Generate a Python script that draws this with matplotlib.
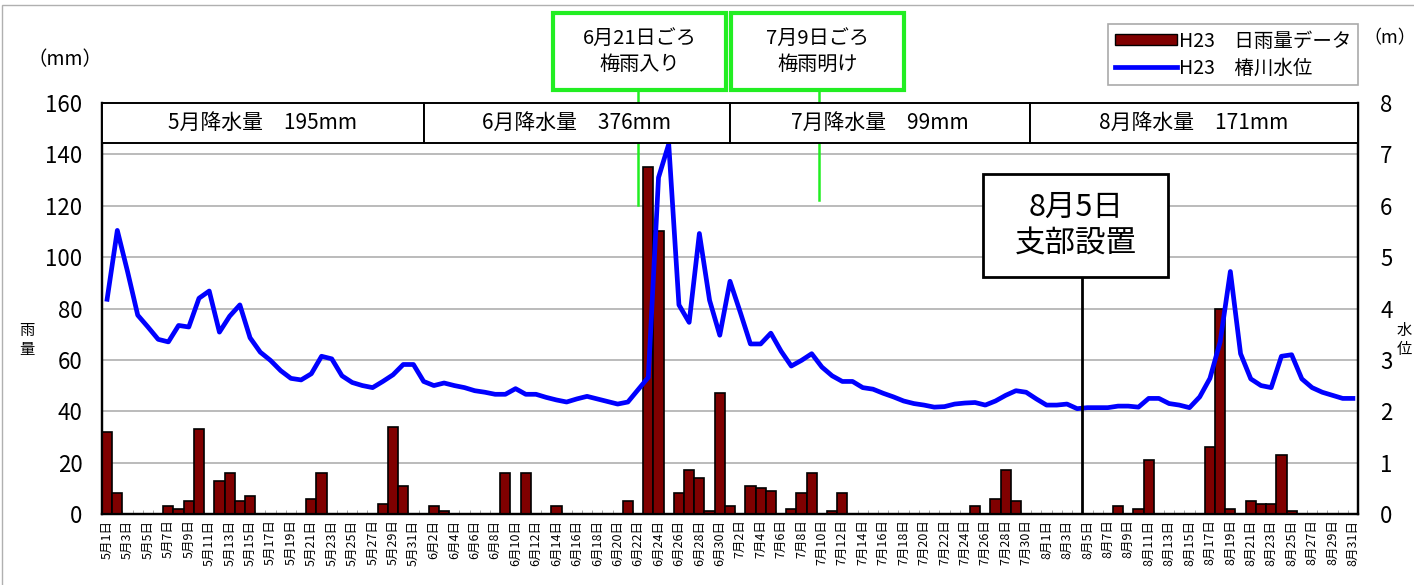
import matplotlib
matplotlib.use('Agg')
import matplotlib.pyplot as plt
from matplotlib.patches import Rectangle
from matplotlib.lines import Line2D

plt.rcParams['font.family'] = ['Noto Sans CJK JP', 'DejaVu Sans']

# data: H23 (2011) May-Aug daily rainfall (mm) and Tsubaki river level (m)
months = [5, 6, 7, 8]
month_days = [31, 30, 31, 31]

rain_may = [32, 8, 0, 0, 0, 0, 3, 2, 5, 33, 0, 13, 16, 5, 7, 0, 0, 0, 0, 0,
            6, 16, 0, 0, 0, 0, 0, 4, 34, 11, 0]
rain_jun = [0, 3, 1, 0, 0, 0, 0, 0, 16, 0, 16, 0, 0, 3, 0, 0, 0, 0, 0, 0,
            5, 0, 135, 110, 0, 8, 17, 14, 1, 47]
rain_jul = [3, 0, 11, 10, 9, 0, 2, 8, 16, 0, 1, 8, 0, 0, 0, 0, 0, 0, 0, 0,
            0, 0, 0, 0, 3, 0, 6, 17, 5, 0, 0]
rain_aug = [0, 0, 0, 0, 0, 0, 0, 3, 0, 2, 21, 0, 0, 0, 0, 0, 26, 80, 2, 0,
            5, 4, 4, 23, 1, 0, 0, 0, 0, 0, 0]

level_may = [4.18, 5.52, 4.72, 3.87, 3.64, 3.40, 3.35, 3.67, 3.64, 4.20, 4.34,
             3.54, 3.85, 4.07, 3.43, 3.15, 2.99, 2.79, 2.64, 2.61, 2.73, 3.07,
             3.02, 2.69, 2.56, 2.50, 2.46, 2.58, 2.71, 2.91, 2.91]
level_jun = [2.58, 2.50, 2.55, 2.50, 2.46, 2.40, 2.37, 2.33, 2.33, 2.44, 2.33,
             2.33, 2.27, 2.22, 2.18, 2.24, 2.29, 2.24, 2.19, 2.14, 2.18, 2.42,
             2.66, 6.55, 7.20, 4.07, 3.73, 5.46, 4.16, 3.48]
level_jul = [4.53, 3.93, 3.31, 3.31, 3.52, 3.17, 2.88, 2.99, 3.12, 2.86, 2.69,
             2.58, 2.58, 2.46, 2.43, 2.35, 2.28, 2.20, 2.15, 2.12, 2.08, 2.09,
             2.14, 2.16, 2.17, 2.12, 2.20, 2.31, 2.40, 2.37, 2.24]
level_aug = [2.12, 2.12, 2.14, 2.05, 2.07, 2.07, 2.07, 2.10, 2.10, 2.08, 2.25,
             2.25, 2.15, 2.12, 2.07, 2.28, 2.64, 3.35, 4.72, 3.12, 2.63, 2.50,
             2.46, 3.07, 3.10, 2.63, 2.46, 2.37, 2.31, 2.25, 2.25]

month_totals = ['5月降水量　195mm', '6月降水量　376mm', '7月降水量　99mm', '8月降水量　171mm']
month_edges = [-0.5, 31.0, 61.0, 90.4, 122.5]

rain = rain_may + rain_jun + rain_jul + rain_aug
level = level_may + level_jun + level_jul + level_aug
day_labels = [f'{m}月{d}日' for m, n in zip(months, month_days) for d in range(1, n + 1)]
x = list(range(len(rain)))

fig = plt.figure(figsize=(14.14, 5.85), dpi=100)
ax = fig.add_axes([102/1414, 71/585, 1256/1414, 411/585])
ax2 = ax.twinx()

# bars
ax.bar(x, rain, width=1.0, color='#800000', edgecolor='black', linewidth=1.2, zorder=3)
ax.set_xlim(-0.5, len(rain) - 0.5)
ax.set_ylim(0, 160)
ax.set_yticks(range(0, 161, 20))
ax.grid(axis='y', color='#a8a8a8', linewidth=1.1, zorder=0)
ax.set_axisbelow(True)
ax.tick_params(axis='y', labelsize=16, length=0, pad=14)
ax.set_xticks(x[::2])
ax.set_xticklabels(day_labels[::2], rotation=90, fontsize=9)
ax.tick_params(axis='x', length=0, pad=4)
ax.set_xticks([i + 0.5 for i in x[:-1]], minor=True)
ax.tick_params(axis='x', which='minor', direction='in', length=3, color='#999999')

# water level
ax2.plot(x, level, color='#0000ff', linewidth=3.4, zorder=4)
ax2.set_ylim(0, 8)
ax2.set_yticks(range(0, 9))
ax2.tick_params(axis='y', labelsize=16, length=0, pad=16)

for a in (ax, ax2):
    for s in ('left', 'right', 'bottom'):
        a.spines[s].set_linewidth(1.6)
    a.spines['top'].set_visible(False)

# monthly totals header row
tr = ax2.get_xaxis_transform()
y_head = 144.4 / 160
for i, t in enumerate(month_totals):
    ax2.add_patch(Rectangle((month_edges[i], y_head), month_edges[i+1] - month_edges[i], 1 - y_head,
                            transform=tr, facecolor='white', edgecolor='black', linewidth=1.4,
                            zorder=10, clip_on=False))
    ax2.text((month_edges[i] + month_edges[i+1]) / 2, (1 + y_head) / 2, t, transform=tr,
             ha='center', va='center', fontsize=15, zorder=11)

# rainy season callouts
green = '#22ee22'
for xc, x0, x1, ybot, txt in [(52.0, 43.7, 60.6, 0.752, '6月21日ごろ\n梅雨入り'),
                             (69.7, 61.1, 78.0, 0.764, '7月9日ごろ\n梅雨明け')]:
    ax2.plot([xc, xc], [ybot, 1.032], transform=tr, color=green, linewidth=1.8,
             zorder=9, clip_on=False)
    ax2.add_patch(Rectangle((x0, 1.032), x1 - x0, 0.187, transform=tr, facecolor='white',
                            edgecolor=green, linewidth=3, zorder=10, clip_on=False))
    ax2.text((x0 + x1) / 2, 1.032 + 0.0935, txt, transform=tr, ha='center', va='center',
             fontsize=14.5, linespacing=1.35, zorder=11)

# branch office setup
ax2.plot([95.5, 95.5], [0, 0.577], transform=tr, color='black', linewidth=2, zorder=9)
ax2.add_patch(Rectangle((85.8, 0.577), 18.1, 0.25, transform=tr, facecolor='white',
                        edgecolor='black', linewidth=2, zorder=10))
ax2.text(94.85, 0.702, '8月5日\n支部設置', transform=tr, ha='center', va='center',
         fontsize=22, linespacing=1.25, zorder=11)

# legend
handles = [Rectangle((0, 0), 1, 1, facecolor='#800000', edgecolor='black'),
           Line2D([], [], color='#0000ff', linewidth=3.4)]
leg = ax2.legend(handles, ['H23　日雨量データ', 'H23　椿川水位'], loc='upper right',
                 bbox_to_anchor=(1358/1414, 1 - 24/585), bbox_transform=fig.transFigure,
                 borderaxespad=0, fancybox=False, edgecolor='#aaaaaa', fontsize=14,
                 handlelength=3.2, handleheight=0.5, handletextpad=0.1, borderpad=0.35,
                 labelspacing=0.3, framealpha=1)
leg.get_frame().set_linewidth(1.2)
leg.set_zorder(20)

# axis titles
fig.text(65/1414, 1 - 60/585, '（mm）', ha='center', va='center', fontsize=14)
fig.text(1390/1414, 1 - 38/585, '（m）', ha='center', va='center', fontsize=13)
fig.text(27/1414, 1 - 340/585, '雨\n量', ha='center', va='center', fontsize=11, linespacing=1.1)
fig.text(1404/1414, 1 - 340/585, '水\n位', ha='center', va='center', fontsize=11, linespacing=1.1)

# outer border
fig.add_artist(Rectangle((2/1414, -0.1), 1.2, 1.1 - 5/585, transform=fig.transFigure,
                         fill=False, edgecolor='#b0b0b0', linewidth=1))

fig.savefig('out.png', dpi=100)
